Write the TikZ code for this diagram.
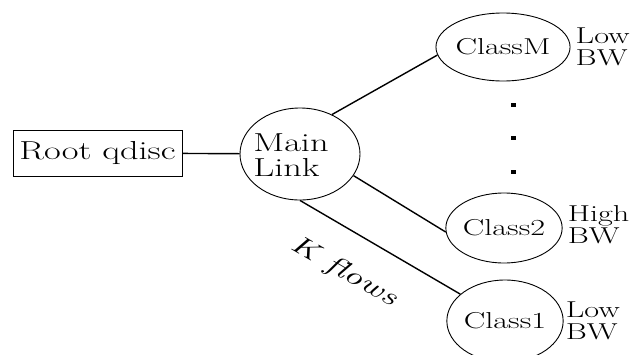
\documentclass[tikz,border=0pt]{standalone}
\usepackage{fontspec}
\setmainfont{Latin Modern Roman}[FakeStretch=1.4]
\usetikzlibrary{shapes,positioning}
\begin{document}
\begin{tikzpicture}[x=1pt,y=-1pt]
  \tikzstyle{box}=[draw,line width=0.9pt,minimum width=169pt,minimum height=46pt,inner sep=0pt,font=\fontsize{26}{25}\selectfont]
  \tikzstyle{cls}=[draw,line width=0.9pt,ellipse,inner sep=0pt,font=\fontsize{23}{22}\selectfont]
  \tikzstyle{bw}=[align=left,inner sep=0pt,font=\fontsize{23}{22}\selectfont]
  \tikzstyle{link}=[line width=1.4pt]
  \useasboundingbox (0,0) rectangle (632,354);
  \node (root) [box] at (97.5,153) {Root qdisc};
  \node (main) [cls, minimum width=120pt, minimum height=92pt] at (300,154) {};
  \node (mainlbl) [align=left, font=\fontsize{26}{25}\selectfont] at (291,155) {Main\\Link};
  \node (cM) [cls, minimum width=104pt, minimum height=68pt] at (503,47) {ClassM};
  \node (c2) [cls, minimum width=106pt, minimum height=70pt] at (504,228) {Class2};
  \node (c1) [cls, minimum width=100pt, minimum height=82pt] at (505,321) {Class1};
  \node (bwM) [bw, right=5pt of cM] {Low\\BW};
  \node (bw2) [bw, right=5pt of c2, yshift=3pt] {High\\BW};
  \node (bw1) [bw, right=2pt of c1] {Low\\BW};
  % links from the main link
  \draw [link] (root) -- (main);
  \draw [link] (main.51) -- (cM.187);
  \draw [link] (main.-22) -- (c2.184);
  \draw [link] (main.south) -- (c1.149);
  \node (kf) [rotate=-30, font=\fontsize{26}{25}\selectfont\itshape] at (344,272) {K flows};
  \foreach \y in {105,138,172}
    \fill (513,\y) ++(-2.5,-2) rectangle ++(5,4);
\end{tikzpicture}
\end{document}
